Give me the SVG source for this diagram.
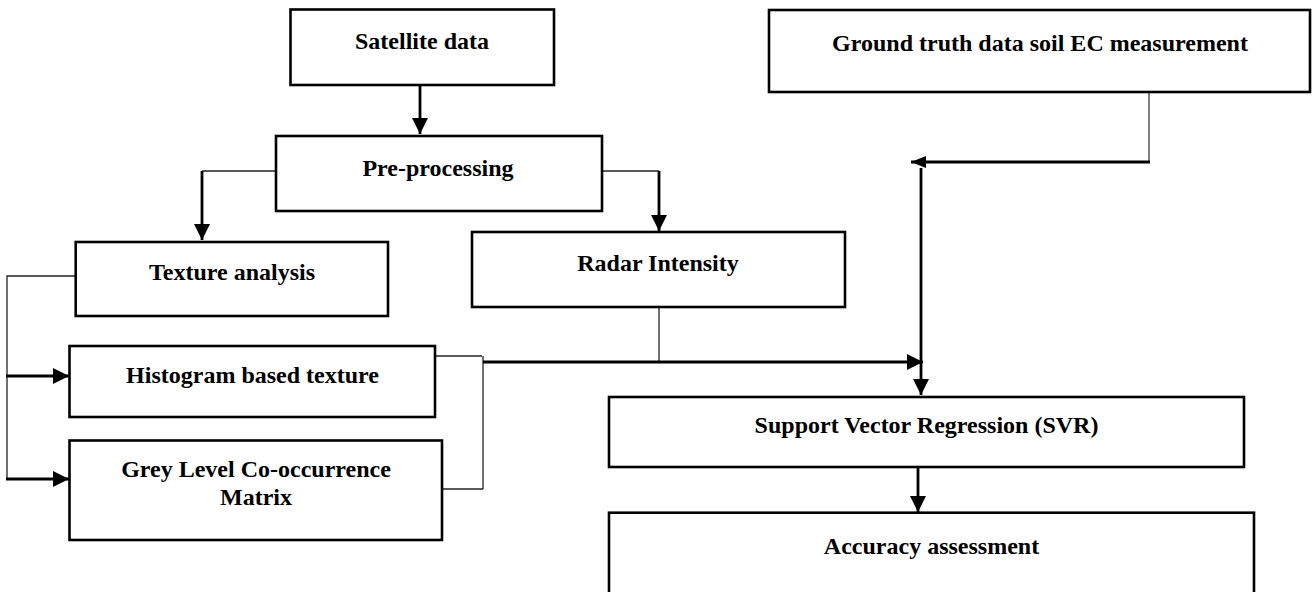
<svg xmlns="http://www.w3.org/2000/svg" width="1313" height="592" viewBox="0 0 1313 592">
<style>
.box{fill:#fff;stroke:#000;stroke-width:2.6}
.lbl{font-family:"Liberation Serif","Times New Roman",serif;font-weight:bold;font-size:24px;fill:#000;text-anchor:middle}
.thin{fill:none;stroke:#222;stroke-width:1.3}
.thick{fill:none;stroke:#000;stroke-width:2.8}
</style>
<defs>
<marker id="ah" markerUnits="userSpaceOnUse" markerWidth="17" markerHeight="16" refX="16" refY="8" orient="auto" viewBox="0 0 17 16">
<path d="M0,0 L16,8 L0,16 z" fill="#000"/>
</marker>
<marker id="ahs" markerUnits="userSpaceOnUse" markerWidth="16" markerHeight="12" refX="15" refY="6" orient="auto" viewBox="0 0 16 12">
<path d="M0,0 L15,6 L0,12 z" fill="#000"/>
</marker>
</defs>
<rect width="1313" height="592" fill="#fff"/>
<g id="connectors">
<line class="thick" x1="420" y1="85" x2="420" y2="134" marker-end="url(#ah)"/>
<polyline class="thin" points="276,171 202,171"/>
<line class="thick" x1="202" y1="171" x2="202" y2="240" marker-end="url(#ah)"/>
<polyline class="thin" points="602,171 659,171"/>
<line class="thick" x1="659" y1="171" x2="659" y2="231" marker-end="url(#ah)"/>
<polyline class="thin" points="75,276 7,276 7,479"/>
<line class="thick" x1="6" y1="376" x2="69" y2="376" marker-end="url(#ah)"/>
<line class="thick" x1="6" y1="479" x2="69" y2="479" marker-end="url(#ah)"/>
<polyline class="thin" points="435,356 482,356"/>
<polyline class="thin" points="442,489 483,489"/>
<line class="thin" x1="483" y1="356" x2="483" y2="489"/>
<line class="thin" x1="659" y1="307" x2="659" y2="362"/>
<line class="thick" x1="483" y1="362" x2="923" y2="362" marker-end="url(#ah)"/>
<line x1="1149" y1="92" x2="1149" y2="162" stroke="#555" stroke-width="1.5"/>
<line class="thick" x1="1150" y1="162" x2="911" y2="162" marker-end="url(#ahs)"/>
<line class="thick" x1="921" y1="168" x2="921" y2="395" marker-end="url(#ah)"/>
<line class="thick" x1="918" y1="467" x2="918" y2="512" marker-end="url(#ah)"/>
</g>
<g id="satellite">
<rect class="box" x="290.5" y="9.5" width="263.5" height="75.5"/>
<text class="lbl" x="422" y="49">Satellite data</text>
</g>
<g id="preprocessing">
<rect class="box" x="276" y="136" width="326" height="75"/>
<text class="lbl" x="438" y="175.5">Pre-processing</text>
</g>
<g id="ground-truth">
<rect class="box" x="769" y="10" width="541" height="82"/>
<text class="lbl" x="1040" y="50.5">Ground truth data soil EC measurement</text>
</g>
<g id="texture">
<rect class="box" x="75.7" y="242" width="312.3" height="74"/>
<text class="lbl" x="232" y="280">Texture analysis</text>
</g>
<g id="radar">
<rect class="box" x="472" y="232" width="373" height="75"/>
<text class="lbl" x="658" y="270.5">Radar Intensity</text>
</g>
<g id="histogram">
<rect class="box" x="69.5" y="346" width="365.5" height="71"/>
<text class="lbl" x="252.5" y="382.5">Histogram based texture</text>
</g>
<g id="glcm">
<rect class="box" x="69.5" y="440.5" width="372.5" height="99.5"/>
<text class="lbl" x="256" y="477">Grey Level Co-occurrence</text>
<text class="lbl" x="256" y="505">Matrix</text>
</g>
<g id="svr">
<rect class="box" x="609" y="397" width="635" height="70"/>
<text class="lbl" x="926.5" y="433">Support Vector Regression (SVR)</text>
</g>
<g id="accuracy">
<rect class="box" x="609" y="512.7" width="645" height="100"/>
<text class="lbl" x="931.5" y="554">Accuracy assessment</text>
</g>
</svg>
